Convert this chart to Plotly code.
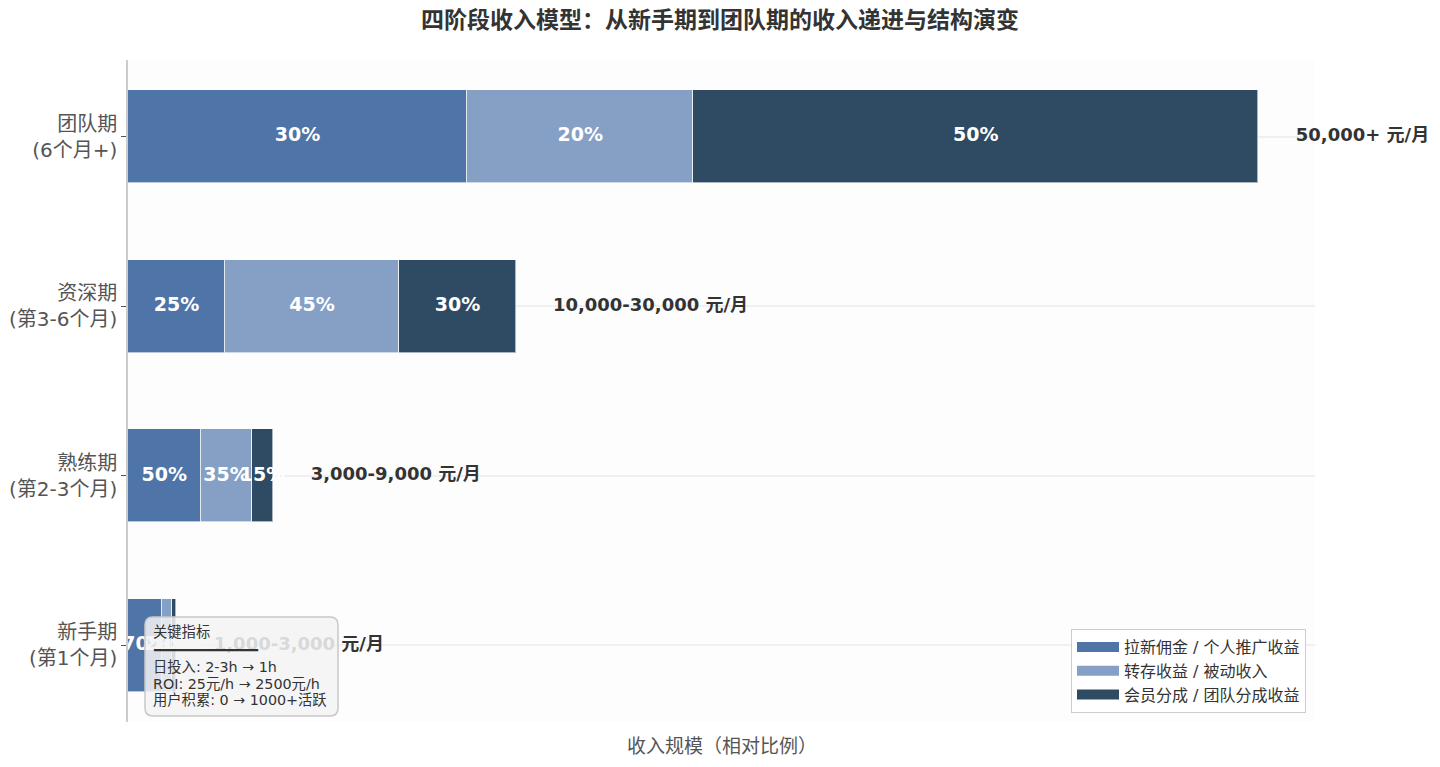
import plotly.graph_objects as go

# ---- data ----
stages = ["新手期<br>(第1个月)", "熟练期<br>(第2-3个月)", "资深期<br>(第3-6个月)", "团队期<br>(6个月+)"]
totals = [1.5, 4.5, 12, 35]              # relative income scale
pct_commission = [70, 50, 25, 30]        # 拉新佣金 / 个人推广收益
pct_passive = [20, 35, 45, 20]           # 转存收益 / 被动收入
pct_team = [10, 15, 30, 50]              # 会员分成 / 团队分成收益
income_labels = ["1,000-3,000 元/月", "3,000-9,000 元/月", "10,000-30,000 元/月", "50,000+ 元/月"]
series_names = ["拉新佣金 / 个人推广收益", "转存收益 / 被动收入", "会员分成 / 团队分成收益"]
colors = ["#4f74a8", "#86a0c5", "#2f4a63"]
metrics_title = "关键指标"
metrics_lines = ["日投入: 2-3h → 1h", "ROI: 25元/h → 2500元/h", "用户积累: 0 → 1000+活跃"]

FONT = "DejaVu Sans, Noto Sans CJK SC, sans-serif"
ypos = list(range(len(stages)))
x_max = max(totals) * 1.05

# plot-area pixel geometry helpers
PL, PR, PT, PB = 128, 1315, 60, 722
PW, PH = PR - PL, PB - PT
def px(x):
    return (x - PL) / PW
def py(y):
    return (PB - y) / PH

fig = go.Figure()

pct_sets = [pct_commission, pct_passive, pct_team]
bases = [0.0] * len(stages)
label_x, label_y, label_t = [], [], []
for name, pcts, col in zip(series_names, pct_sets, colors):
    seg = [t * p / 100 for t, p in zip(totals, pcts)]
    fig.add_trace(go.Bar(
        y=ypos, x=seg, base=bases, orientation="h", name=name,
        marker=dict(color=col, line=dict(color="rgba(255,255,255,0.6)", width=1)),
        width=0.55, showlegend=False,
    ))
    for i in range(len(stages)):
        label_x.append(bases[i] + seg[i] / 2)
        label_y.append(ypos[i])
        label_t.append(f"{pcts[i]}%")
    bases = [b + s for b, s in zip(bases, seg)]

# legend entries (wide rectangular swatches)
for name, col in zip(series_names, colors):
    fig.add_trace(go.Scatter(x=[None], y=[None], mode="lines", name=name,
                             line=dict(color=col, width=11), hoverinfo="skip"))

# percent labels
fig.add_trace(go.Scatter(
    x=label_x, y=label_y, text=label_t, mode="text",
    textfont=dict(family=FONT, size=19, color="white", weight="bold"),
    showlegend=False, hoverinfo="skip", cliponaxis=False,
))
# income labels
fig.add_trace(go.Scatter(
    x=[t + max(totals) * 0.033 for t in totals], y=ypos, text=income_labels,
    mode="text", textposition="middle right",
    textfont=dict(family=FONT, size=18, color="#333333", weight="bold"),
    showlegend=False, hoverinfo="skip", cliponaxis=False,
))

# rounded metrics box (above traces)
x0, x1 = px(145), px(338)
y0, y1 = py(716), py(617)
rx, ry = 8 / PW, 8 / PH
path = (f"M {x0+rx},{y0} L {x1-rx},{y0} Q {x1},{y0} {x1},{y0+ry} "
        f"L {x1},{y1-ry} Q {x1},{y1} {x1-rx},{y1} L {x0+rx},{y1} "
        f"Q {x0},{y1} {x0},{y1-ry} L {x0},{y0+ry} Q {x0},{y0} {x0+rx},{y0} Z")
fig.add_shape(type="path", path=path, xref="paper", yref="paper",
              fillcolor="rgba(243,243,243,0.86)", line=dict(color="#c8c8c8", width=1.5),
              layer="above")

box_texts = [metrics_title, "━" * 13] + metrics_lines
box_ys = [632, 650, 667, 684, 700]
for t, yy in zip(box_texts, box_ys):
    fig.add_annotation(
        xref="paper", yref="paper", x=px(151), y=py(yy),
        xanchor="left", yanchor="middle", align="left", showarrow=False,
        text=t, font=dict(family=FONT, size=13.3 if t.startswith("━") else 14.3, color="#333333"),
    )

# x-axis title
fig.add_annotation(
    xref="paper", yref="paper", x=0.5, y=py(746), xanchor="center", yanchor="middle",
    showarrow=False, text="收入规模（相对比例）",
    font=dict(family=FONT, size=19, color="#555555"),
)

fig.update_layout(
    width=1440, height=767, autosize=False,
    margin=dict(l=PL, r=1440 - PR, t=PT, b=767 - PB, autoexpand=False),
    paper_bgcolor="white", plot_bgcolor="#fdfdfd",
    barmode="stack", bargap=0,
    title=dict(text="<b>四阶段收入模型：从新手期到团队期的收入递进与结构演变</b>",
               x=0.5, xanchor="center", y=1 - 20 / 767, yanchor="middle",
               font=dict(family=FONT, size=23, color="#333333")),
    legend=dict(x=px(1306), y=py(713), xanchor="right", yanchor="bottom",
                bgcolor="rgba(255,255,255,0.9)", bordercolor="#cccccc", borderwidth=1,
                font=dict(family=FONT, size=16, color="#333333"), traceorder="normal",
                tracegroupgap=0, itemwidth=42),
    xaxis=dict(range=[0, x_max], showticklabels=False, showgrid=False, zeroline=False,
               showline=False, ticks="", automargin=False),
    yaxis=dict(range=[-0.4525, 3.4525], tickvals=ypos, ticktext=stages,
               tickfont=dict(family=FONT, size=20, color="#555555"),
               ticks="outside", ticklen=5, tickcolor="#555555", tickwidth=1,
               showline=True, linecolor="#cccccc", linewidth=1.5,
               showgrid=True, gridcolor="rgba(230,230,230,0.55)", gridwidth=1.5,
               zeroline=False, layer="above traces", automargin=False),
    showlegend=True,
)

fig.write_html("out.html")
